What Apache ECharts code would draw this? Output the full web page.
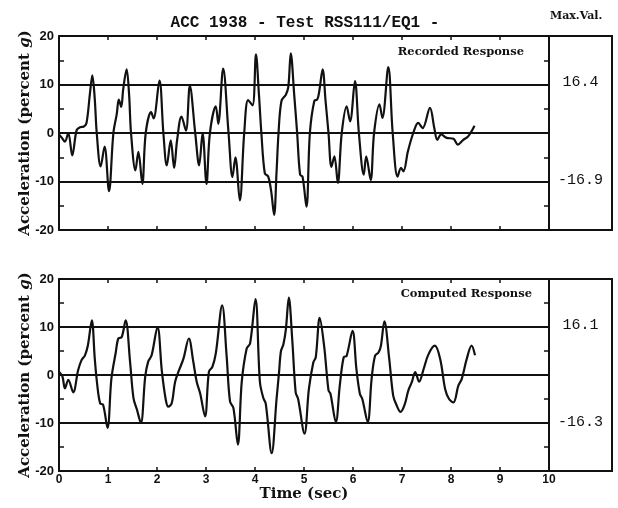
<!DOCTYPE html>
<html>
<head>
<meta charset="utf-8">
<script src="https://cdn.jsdelivr.net/npm/echarts@6/dist/echarts.min.js"></script>
<style>
  html, body { margin: 0; padding: 0; background: #fff; }
  #chart { width: 618px; height: 508px; }
</style>
</head>
<body>
<div id="chart"></div>
<script>
// Recorded response of ACC 1938, test RSS111/EQ1 (time in sec, acceleration in percent g)
const recordedTime = [
  0.00, 0.06, 0.12, 0.19, 0.27, 0.36, 0.43, 0.50, 0.56, 0.63,
  0.68, 0.73, 0.77, 0.85, 0.93, 1.02, 1.11, 1.18, 1.22, 1.27,
  1.31, 1.38, 1.43, 1.47, 1.56, 1.62, 1.70, 1.77, 1.88, 1.93,
  2.05, 2.13, 2.20, 2.28, 2.35, 2.41, 2.50, 2.59, 2.67, 2.78,
  2.86, 2.93, 3.01, 3.08, 3.20, 3.25, 3.35, 3.46, 3.54, 3.60,
  3.69, 3.78, 3.86, 3.95, 4.02, 4.08, 4.13, 4.20, 4.27, 4.33,
  4.39, 4.44, 4.48, 4.54, 4.63, 4.68, 4.73, 4.80, 4.86, 4.92,
  4.97, 5.05, 5.12, 5.21, 5.27, 5.31, 5.38, 5.44, 5.50, 5.56,
  5.62, 5.69, 5.77, 5.87, 5.94, 6.04, 6.12, 6.22, 6.27, 6.36,
  6.43, 6.54, 6.60, 6.72, 6.81, 6.91, 6.98, 7.03, 7.12, 7.23,
  7.33, 7.42, 7.57, 7.66, 7.72, 7.80, 7.91, 8.05, 8.14, 8.25,
  8.35, 8.48
];
const recordedAccel = [
  -0.3, -1.0, -1.8, 0.0, -4.6, 0.6, 1.2, 1.3, 2.0, 8.0,
  11.9, 7.0, 0.0, -6.9, -2.8, -12.0, 0.0, 4.0, 6.9, 5.4,
  9.0, 13.1, 8.0, 0.0, -7.7, -3.9, -10.5, 0.0, 4.3, 3.0,
  10.8, 0.0, -6.7, -1.5, -7.2, -1.5, 3.4, 0.5, 9.7, 0.0,
  -6.7, 0.0, -10.5, 0.0, 5.5, 1.9, 13.3, 0.0, -9.1, -5.0,
  -13.9, 0.0, 6.8, 5.7, 16.2, 8.0, 0.0, -8.3, -9.0, -12.0,
  -16.9, -8.0, 0.0, 6.6, 7.9, 9.5, 16.4, 7.9, 0.0, -8.6,
  -9.0, -15.2, 0.0, 6.6, 6.9, 8.5, 13.1, 6.6, 0.0, -7.0,
  -4.8, -10.3, 0.0, 5.5, 2.4, 10.7, 0.0, -8.6, -4.8, -9.7,
  0.0, 5.9, 3.1, 13.6, 0.0, -9.0, -7.2, -7.9, -3.8, 0.0,
  2.1, 1.0, 5.2, 1.0, -1.4, -0.3, -1.0, -1.2, -2.4, -1.4,
  -0.7, 1.5
];

// Computed response of the same test
const computedTime = [
  0.00, 0.07, 0.12, 0.19, 0.29, 0.39, 0.46, 0.53, 0.59, 0.67,
  0.73, 0.78, 0.84, 0.90, 0.99, 1.07, 1.16, 1.21, 1.28, 1.36,
  1.45, 1.52, 1.59, 1.67, 1.76, 1.82, 1.89, 2.01, 2.10, 2.18,
  2.23, 2.30, 2.37, 2.45, 2.54, 2.65, 2.74, 2.81, 2.88, 2.98,
  3.06, 3.13, 3.20, 3.33, 3.42, 3.49, 3.56, 3.65, 3.73, 3.83,
  3.90, 4.01, 4.10, 4.17, 4.22, 4.34, 4.44, 4.49, 4.53, 4.58,
  4.63, 4.69, 4.76, 4.83, 4.88, 5.01, 5.10, 5.19, 5.24, 5.32,
  5.41, 5.50, 5.54, 5.65, 5.73, 5.81, 5.87, 5.99, 6.07, 6.14,
  6.19, 6.30, 6.38, 6.45, 6.52, 6.57, 6.64, 6.74, 6.82, 6.89,
  6.97, 7.05, 7.13, 7.20, 7.27, 7.35, 7.44, 7.54, 7.67, 7.78,
  7.88, 7.96, 8.05, 8.15, 8.22, 8.32, 8.42, 8.49
];
const computedAccel = [
  0.7, -0.3, -2.8, -1.0, -3.6, 1.0, 3.1, 4.1, 6.2, 11.4,
  3.4, -2.0, -5.9, -6.2, -11.0, -0.7, 4.8, 7.6, 7.9, 11.4,
  2.8, -4.8, -7.2, -10.0, -0.3, 2.8, 4.1, 10.0, 0.7, -5.2,
  -6.6, -5.9, -1.4, 1.0, 3.4, 7.6, 2.8, -1.4, -3.8, -8.6,
  0.7, 1.7, 4.5, 14.5, 4.1, -5.5, -6.9, -14.5, -1.4, 5.5,
  6.6, 15.8, -1.4, -4.8, -6.0, -16.3, -5.0, 0.5, 5.0, 6.4,
  9.5, 16.1, 7.4, -3.6, -5.0, -12.2, -2.9, 2.6, 3.7, 11.9,
  6.1, -3.2, -3.9, -9.8, -2.2, 3.7, 4.0, 9.2, 1.2, -3.9,
  -5.0, -9.8, -0.8, 4.0, 4.7, 6.1, 11.2, 3.3, -4.3, -6.3,
  -7.7, -6.3, -3.2, -1.5, 0.6, -1.4, 1.2, 4.3, 6.1, 3.3,
  -2.9, -5.0, -5.7, -2.2, -0.8, 3.3, 6.1, 4.1
];

const panelLabels = ['Recorded Response', 'Computed Response'];
const yTicks = { min: -20, max: 20, interval: 10 };
const xTicks = { min: 0, max: 10, interval: 1 };

const INK = '#111';
const pairs = (t, v) => t.map((x, i) => [x, v[i]]);

const grids = [
  { left: 59, top: 36, width: 490, height: 194 },
  { left: 59, top: 279, width: 490, height: 192 }
];

const axisLine = { show: true, onZero: false, lineStyle: { color: INK, width: 2 } };

function xAxisFor(gridIndex, position, showLabels) {
  return {
    type: 'value', gridIndex, position,
    min: xTicks.min, max: xTicks.max, interval: xTicks.interval,
    axisLine,
    axisTick: { show: true, inside: true, length: 4, lineStyle: { color: INK, width: 1.5 } },
    axisLabel: {
      show: showLabels, margin: 3, color: INK,
      fontFamily: 'Liberation Sans', fontWeight: 'bold', fontSize: 12
    },
    splitLine: { show: false },
    name: showLabels ? 'Time (sec)' : '',
    nameLocation: 'middle', nameGap: 16, nameMoveOverlap: false,
    nameTextStyle: {
      color: INK, fontFamily: 'DejaVu Serif', fontWeight: 'bold', fontSize: 15
    }
  };
}

function yAxisFor(gridIndex, position) {
  const left = position === 'left';
  return {
    type: 'value', gridIndex, position,
    min: yTicks.min, max: yTicks.max, interval: yTicks.interval,
    axisLine,
    // major ticks fall on the grid lines / borders; the minor ones mark ±5 and ±15
    axisTick: { show: true, inside: true, length: 4, lineStyle: { color: INK, width: 1.5 } },
    minorTick: { show: true, splitNumber: 2, length: 5, lineStyle: { color: INK, width: 1.5 } },
    axisLabel: {
      show: left, margin: 5, color: INK,
      fontFamily: 'Liberation Sans', fontWeight: 'bold', fontSize: 13
    },
    splitLine: { show: left, lineStyle: { color: INK, width: 2 } },
    name: left ? 'Acceleration (percent {i|g})' : '',
    nameLocation: 'middle', nameGap: 26, nameMoveOverlap: false,
    nameTextStyle: {
      color: INK, fontFamily: 'DejaVu Serif', fontWeight: 'bold', fontSize: 15,
      rich: { i: { fontFamily: 'DejaVu Serif', fontWeight: 'bold', fontStyle: 'italic', fontSize: 15, color: INK } }
    }
  };
}

const chart = echarts.init(document.getElementById('chart'), null, { renderer: 'canvas' });

chart.setOption({
  animation: false,
  backgroundColor: '#fff',
  title: {
    text: 'ACC 1938 - Test RSS111/EQ1 -',
    left: 300, top: 10, textAlign: 'center',
    textStyle: { color: INK, fontFamily: 'Liberation Mono', fontWeight: 'bold', fontSize: 16 }
  },
  grid: grids,
  xAxis: [
    xAxisFor(0, 'bottom', false), xAxisFor(0, 'top', false),
    xAxisFor(1, 'bottom', true), xAxisFor(1, 'top', false)
  ],
  yAxis: [
    yAxisFor(0, 'left'), yAxisFor(0, 'right'),
    yAxisFor(1, 'left'), yAxisFor(1, 'right')
  ],
  series: [
    {
      name: panelLabels[0], type: 'line', xAxisIndex: 0, yAxisIndex: 0,
      data: pairs(recordedTime, recordedAccel),
      showSymbol: false, smooth: 0.35,
      lineStyle: { color: INK, width: 2.2 }
    },
    {
      name: panelLabels[1], type: 'line', xAxisIndex: 2, yAxisIndex: 2,
      data: pairs(computedTime, computedAccel),
      showSymbol: false, smooth: 0.35,
      lineStyle: { color: INK, width: 2.2 }
    }
  ]
});

// Max.Val. side boxes with the peak values of each trace
const serifBold = 'bold 11.5px "DejaVu Serif"';
const monoNum = '15px "Liberation Mono"';
const boxRight = 612;
const graphic = [{
  type: 'text', left: 550, top: 11,
  style: { text: 'Max.Val.', font: 'bold 11px "DejaVu Serif"', fill: INK }
}];

[[recordedAccel, 0], [computedAccel, 2]].forEach(([vals, yi], k) => {
  const g = grids[k];
  const xRight = g.left + g.width;
  graphic.push({
    type: 'rect', silent: true,
    shape: { x: xRight, y: g.top, width: boxRight - xRight, height: g.height },
    style: { fill: 'none', stroke: INK, lineWidth: 2 }
  });
  const hi = Math.max(...vals), lo = Math.min(...vals);
  const yHi = chart.convertToPixel({ yAxisIndex: yi }, 10);
  const yLo = chart.convertToPixel({ yAxisIndex: yi }, -10);
  const cx = (xRight + boxRight) / 2;
  graphic.push({
    type: 'text', x: cx, y: yHi - 2,
    style: { text: hi.toFixed(1), font: monoNum, fill: INK, align: 'center', verticalAlign: 'middle' }
  });
  graphic.push({
    type: 'text', x: cx, y: yLo - 1,
    style: { text: lo.toFixed(1), font: monoNum, fill: INK, align: 'center', verticalAlign: 'middle' }
  });
  graphic.push({
    type: 'text', x: k === 0 ? 524 : 532, y: g.top + (k === 0 ? 16 : 15),
    style: { text: panelLabels[k], font: serifBold, fill: INK, align: 'right', verticalAlign: 'middle' }
  });
});

chart.setOption({ graphic });
</script>
</body>
</html>
